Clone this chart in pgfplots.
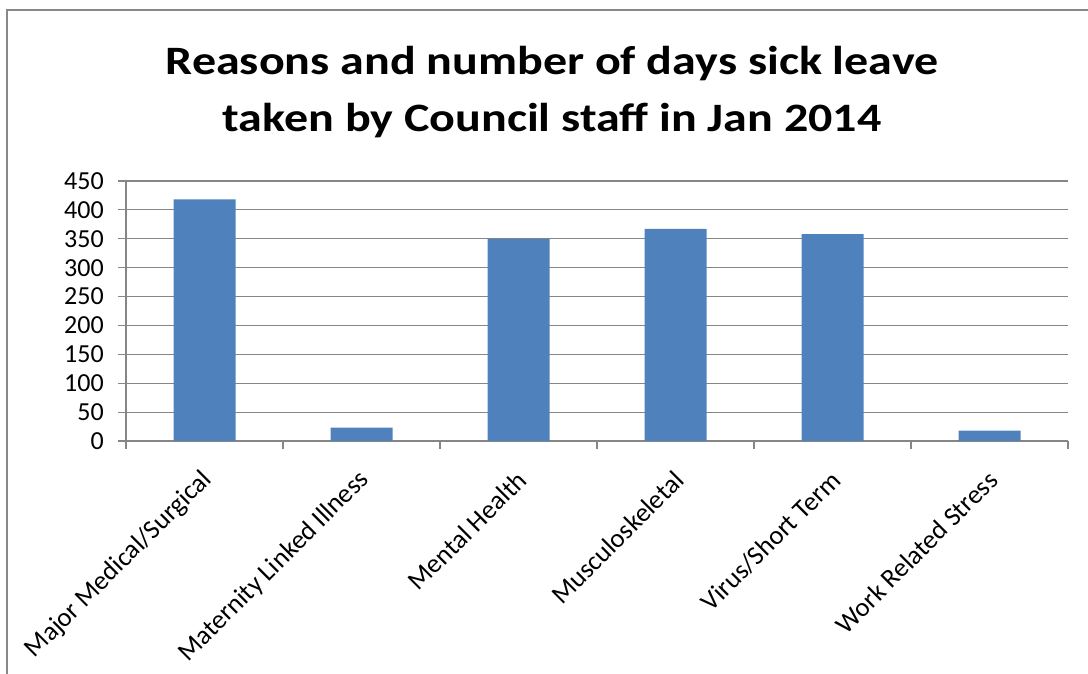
\documentclass[border=0pt]{standalone}
\usepackage{pgfplots}
\pgfplotsset{compat=1.18}
\usepackage{fontspec}
\setmainfont{Carlito}
\definecolor{barblue}{RGB}{79,129,189}
\definecolor{gridgray}{RGB}{134,134,134}
\definecolor{framegray}{RGB}{136,136,136}
\begin{document}
\begin{tikzpicture}
\path[use as bounding box] (0,0) rectangle (816pt,505.5pt);
\draw[framegray, line width=1.5pt] (5.25pt,0) -- (5.25pt,498pt) -- (816pt,498pt);
\node[anchor=base, inner sep=0pt, font=\bfseries\fontsize{36}{43}\selectfont] at (414pt,449.5pt) {\scalebox{1}[0.84]{Reasons and number of days sick leave}};
\node[anchor=base, inner sep=0pt, font=\bfseries\fontsize{36}{43}\selectfont] at (414pt,406.5pt) {\scalebox{1}[0.84]{taken by Council staff in Jan 2014}};
\begin{axis}[
  at={(94.5pt,174.75pt)}, anchor=south west,
  scale only axis, width=706.5pt, height=195pt,
  xmin=-0.5, xmax=5.5, ymin=0, ymax=450,
  ytick={0,50,...,450},
  xtick={-0.5,0.5,...,5.5},
  x tick label as interval,
  xticklabels={Major Medical/Surgical, Maternity Linked Illness, Mental Health, Musculoskeletal, Virus/Short Term, Work Related Stress},
  axis x line*=bottom, axis y line*=left,
  axis line style={gridgray, line width=0.9pt, -},
  tick align=outside, major tick length=6pt,
  tick style={gridgray, line width=0.9pt},
  ymajorgrids, grid style={gridgray, line width=0.9pt},
  x tick label style={font=\fontsize{20}{24}\selectfont, inner sep=0pt, xshift=2.75pt, yshift=-20pt, rotate=45, anchor=east},
  y tick label style={font=\fontsize{19.5}{23}\selectfont, inner sep=0pt, xshift=-10.5pt},
  /pgf/number format/assume math mode=true,
  ybar, bar width=46.5pt,
]
\addplot[fill=barblue, draw=none] coordinates {(0,418) (1,23) (2,350) (3,367) (4,358) (5,18)};
\end{axis}
\end{tikzpicture}
\end{document}
